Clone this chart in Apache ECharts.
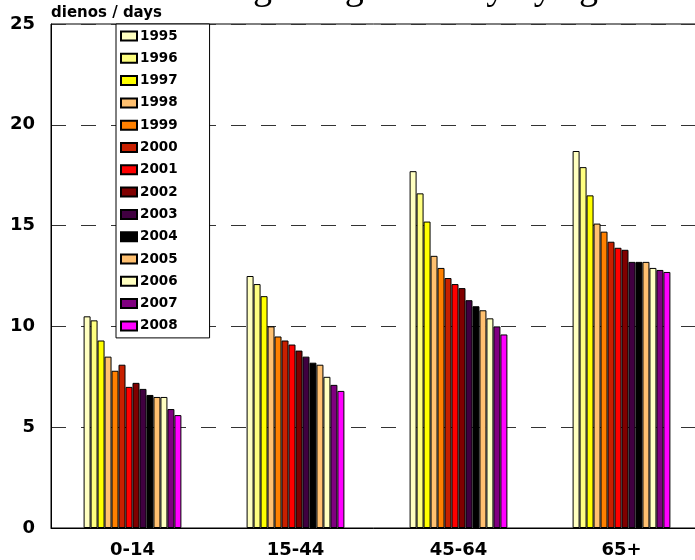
<!DOCTYPE html>
<html>
<head>
<meta charset="utf-8">
<script src="https://cdn.jsdelivr.net/npm/echarts@6/dist/echarts.min.js"></script>
<style>
  html, body { margin: 0; padding: 0; background: #fff; }
  #main { width: 695px; height: 560px; }
</style>
</head>
<body>
<div id="main"></div>
<script>
// amžiaus grupės / age groups
var ageGroups = ['0-14', '15-44', '45-64', '65+'];
var years = ['1995', '1996', '1997', '1998', '1999', '2000', '2001',
             '2002', '2003', '2004', '2005', '2006', '2007', '2008'];

// vidutinė trukmė (dienos) kiekvienai grupei, 1995..2008
var g0_14  = [10.5, 10.3, 9.3, 8.5, 7.8, 8.1, 7.0, 7.2, 6.9, 6.6, 6.5, 6.5, 5.9, 5.6];
var g15_44 = [12.5, 12.1, 11.5, 10.0, 9.5, 9.3, 9.1, 8.8, 8.5, 8.2, 8.1, 7.5, 7.1, 6.8];
var g45_64 = [17.7, 16.6, 15.2, 13.5, 12.9, 12.4, 12.1, 11.9, 11.3, 11.0, 10.8, 10.4, 10.0, 9.6];
var g65    = [18.7, 17.9, 16.5, 15.1, 14.7, 14.2, 13.9, 13.8, 13.2, 13.2, 13.2, 12.9, 12.8, 12.7];

var yTicks = [0, 5, 10, 15, 20, 25];

var colors = ['#FFFFC0', '#FFFF80', '#FFFF00', '#FFC070', '#FF8000', '#C82000', '#FF0000',
              '#800000', '#400040', '#000000', '#FFC070', '#FFFFC0', '#800080', '#FF00FF'];

var groups = [g0_14, g15_44, g45_64, g65];
var font = 'DejaVu Sans';

var series = years.map(function (y, i) {
  return {
    name: y,
    type: 'bar',
    barGap: 0,
    barCategoryGap: '40%',
    itemStyle: {
      color: colors[i],
      borderColor: '#000',
      borderWidth: 1
    },
    data: groups.map(function (g) { return g[i]; })
  };
});

var chart = echarts.init(document.getElementById('main'), null, { renderer: 'canvas' });

chart.setOption({
  animation: false,
  backgroundColor: '#fff',
  graphic: [{
    // pavadinimas nukirstas viršuje (matosi tik apatinės raidžių dalys)
    type: 'text',
    x: 163,
    y: 8,
    style: {
      text: 'Average length of stay by age',
      font: '38px "Liberation Serif"',
      fill: '#000',
      verticalAlign: 'bottom'
    }
  }],
  grid: {
    left: 51,
    top: 24,
    right: -8,
    bottom: 32,
    outerBoundsMode: 'none',
    show: true,
    borderColor: '#000',
    borderWidth: 1,
    backgroundColor: 'transparent'
  },
  legend: {
    data: years,
    orient: 'vertical',
    left: 116,
    top: 24,
    padding: [5, 32, 5, 4],
    itemWidth: 16,
    itemHeight: 9,
    itemGap: 8.3,
    icon: 'rect',
    backgroundColor: '#fff',
    borderColor: '#000',
    borderWidth: 1,
    textStyle: {
      fontFamily: font,
      fontWeight: 'bold',
      fontSize: 13.5,
      lineHeight: 14,
      color: '#000',
      padding: [0, 0, 0, -2]
    }
  },
  xAxis: {
    type: 'category',
    data: ageGroups,
    axisLine: { lineStyle: { color: '#000', width: 1 } },
    axisTick: { show: false },
    axisLabel: {
      color: '#000',
      fontFamily: font,
      fontWeight: 'bold',
      fontSize: 18,
      margin: 13
    }
  },
  yAxis: {
    type: 'value',
    min: yTicks[0],
    max: yTicks[yTicks.length - 1],
    interval: 5,
    name: 'dienos / days',
    nameLocation: 'end',
    nameGap: 3,
    nameTextStyle: {
      color: '#000',
      fontFamily: font,
      fontWeight: 'bold',
      fontSize: 15,
      align: 'left',
      verticalAlign: 'bottom'
    },
    axisLine: { show: true, lineStyle: { color: '#000', width: 1 } },
    axisTick: { show: false },
    axisLabel: {
      color: '#000',
      fontFamily: font,
      fontWeight: 'bold',
      fontSize: 18,
      margin: 16
    },
    splitLine: {
      show: true,
      lineStyle: { color: '#333', width: 1, type: [15, 15] }
    }
  },
  series: series
});
</script>
</body>
</html>
